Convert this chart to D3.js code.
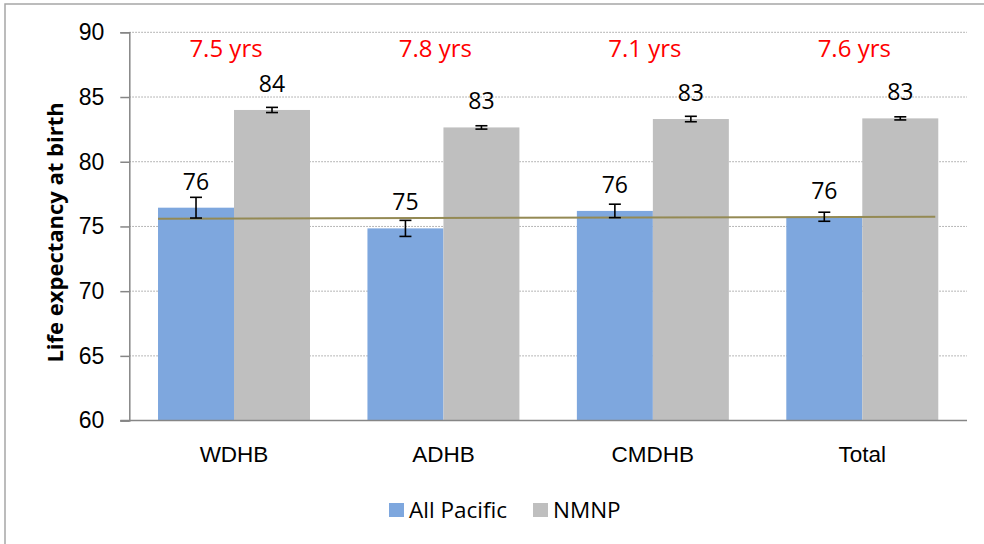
<!doctype html>
<html>
<head>
<meta charset="utf-8">
<title>Life expectancy at birth</title>
<script src="https://cdn.jsdelivr.net/npm/d3@7"></script>
<style>
  html, body { margin: 0; padding: 0; background: #fff; }
  svg { display: block; font-family: "Open Sans", "Liberation Sans", sans-serif; }
</style>
</head>
<body>
<div id="viz"></div>
<script>
// data
const categories = ["WDHB", "ADHB", "CMDHB", "Total"];
const seriesNames = ["All Pacific", "NMNP"];
const allPacific = [76.45, 74.85, 76.2, 75.75];
const nmnp = [84.0, 82.65, 83.3, 83.35];
const allPacificErr = [0.8, 0.62, 0.52, 0.35];
const nmnpErr = [0.2, 0.13, 0.21, 0.12];
const gapLabels = ["7.5 yrs", "7.8 yrs", "7.1 yrs", "7.6 yrs"];
const refLine = [75.6, 75.75];
const yTicks = [60, 65, 70, 75, 80, 85, 90];

const colors = {"All Pacific": "#7EA7DE", "NMNP": "#BFBFBF"};

const W = 984, H = 544;
const plot = {left: 129.3, right: 967, top: 32.3, bottom: 420.6};

const svg = d3.select("#viz").append("svg")
  .attr("width", W)
  .attr("height", H);

// chart frame (only top and left edges fall inside the picture)
svg.append("rect")
  .attr("x", 5).attr("y", 4)
  .attr("width", W + 10).attr("height", H + 10)
  .attr("fill", "#fff")
  .attr("stroke", "#a6a6a6")
  .attr("stroke-width", 1.5);

const y = d3.scaleLinear().domain([60, 90]).range([plot.bottom, plot.top]);
const x0 = d3.scaleBand().domain(categories).range([plot.left, plot.right]).padding(0);
const x1 = d3.scaleBand().domain(seriesNames).range([0, x0.bandwidth()])
  .paddingInner(0).paddingOuter(0.378);

// gridlines
svg.append("g")
  .selectAll("line")
  .data(yTicks.filter(d => d > 60))
  .join("line")
    .attr("x1", plot.left).attr("x2", plot.right)
    .attr("y1", d => y(d)).attr("y2", d => y(d))
    .attr("stroke", "#a0a0a0")
    .attr("stroke-width", 1)
    .attr("stroke-dasharray", "1.5,1.5");

// bars
const rows = categories.map((c, i) => [
  {cat: c, s: "All Pacific", v: allPacific[i], e: allPacificErr[i]},
  {cat: c, s: "NMNP", v: nmnp[i], e: nmnpErr[i]}
]).flat();

svg.append("g")
  .selectAll("rect")
  .data(rows)
  .join("rect")
    .attr("x", d => x0(d.cat) + x1(d.s))
    .attr("y", d => y(d.v))
    .attr("width", x1.bandwidth())
    .attr("height", d => y(60) - y(d.v))
    .attr("fill", d => colors[d.s]);

// reference line across the groups
svg.append("line")
  .attr("x1", x0(categories[0]) + x1("All Pacific"))
  .attr("x2", x0(categories[categories.length - 1]) + x1("NMNP") + x1.bandwidth() - 3)
  .attr("y1", y(refLine[0]))
  .attr("y2", y(refLine[1]))
  .attr("stroke", "#948A54")
  .attr("stroke-width", 2);

// error bars
const err = svg.append("g")
  .attr("stroke", "#000")
  .attr("stroke-width", 1.6)
  .selectAll("g")
  .data(rows)
  .join("g")
    .attr("transform", d => `translate(${x0(d.cat) + x1(d.s) + x1.bandwidth() / 2},0)`);
err.append("line")
  .attr("y1", d => y(d.v + d.e)).attr("y2", d => y(d.v - d.e));
err.append("line")
  .attr("x1", -6).attr("x2", 6)
  .attr("y1", d => y(d.v + d.e)).attr("y2", d => y(d.v + d.e));
err.append("line")
  .attr("x1", -6).attr("x2", 6)
  .attr("y1", d => y(d.v - d.e)).attr("y2", d => y(d.v - d.e));

// value labels
svg.append("g")
  .selectAll("text")
  .data(rows)
  .join("text")
    .attr("x", d => x0(d.cat) + x1(d.s) + x1.bandwidth() / 2)
    .attr("y", d => y(d.v) - 18)
    .attr("text-anchor", "middle")
    .style("font-size", "23px")
    .attr("fill", "#000")
    .text(d => d3.format(".0f")(d.v));

// gap labels
svg.append("g")
  .selectAll("text")
  .data(categories)
  .join("text")
    .attr("x", d => x0(d) + x0.bandwidth() / 2 - 8)
    .attr("y", 57)
    .attr("text-anchor", "middle")
    .style("font-size", "24px")
    .attr("fill", "#FF0000")
    .text((d, i) => gapLabels[i]);

// y axis
const yAxis = svg.append("g")
  .attr("transform", `translate(${plot.left},0)`)
  .call(d3.axisLeft(y).tickValues(yTicks).tickSize(9).tickPadding(16));
yAxis.select(".domain").attr("stroke", "#868686").attr("stroke-width", 1.5);
yAxis.selectAll(".tick line").attr("stroke", "#868686").attr("stroke-width", 1.5);
yAxis.selectAll(".tick text")
  .attr("fill", "#000")
  .style("font-size", "23px")
  .style("font-family", "inherit");

// x axis
const xAxis = svg.append("g")
  .attr("transform", `translate(0,${plot.bottom})`)
  .call(d3.axisBottom(x0).tickSize(0).tickPadding(25));
xAxis.select(".domain")
  .attr("d", `M${plot.left - 9},0H${plot.right}`)
  .attr("stroke", "#868686").attr("stroke-width", 1.5);
xAxis.selectAll(".tick text")
  .attr("fill", "#000")
  .style("font-size", "22.5px")
  .style("font-family", "inherit");

// y axis title
svg.append("text")
  .attr("transform", `translate(63,${(plot.top + plot.bottom) / 2 + 6}) rotate(-90)`)
  .attr("text-anchor", "middle")
  .style("font-size", "22px")
  .style("font-weight", "bold")
  .text("Life expectancy at birth");

// legend
const legend = svg.append("g")
  .attr("transform", "translate(389,503)")
  .selectAll("g")
  .data(seriesNames)
  .join("g")
    .attr("transform", (d, i) => `translate(${i * 144},0)`);
legend.append("rect")
  .attr("width", 15).attr("height", 14)
  .attr("fill", d => colors[d]);
legend.append("text")
  .attr("x", 20).attr("y", 14.5)
  .style("font-size", "22.5px")
  .text(d => d);
</script>
</body>
</html>
